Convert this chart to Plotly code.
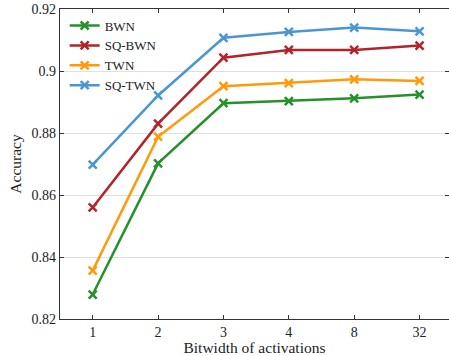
import plotly.graph_objects as go

categories = ["1", "2", "3", "4", "8", "32"]
bwn = [0.8279, 0.8702, 0.8896, 0.8903, 0.8912, 0.8924]
sq_bwn = [0.8560, 0.8830, 0.9043, 0.9068, 0.9068, 0.9082]
twn = [0.8356, 0.8788, 0.8951, 0.8961, 0.8973, 0.8968]
sq_twn = [0.8698, 0.8921, 0.9107, 0.9126, 0.9140, 0.9128]
y_ticks = [0.82, 0.84, 0.86, 0.88, 0.90, 0.92]
y_tick_labels = ["0.82", "0.84", "0.86", "0.88", "0.9", "0.92"]

series = [
    ("BWN", bwn, "#26912a"),
    ("SQ-BWN", sq_bwn, "#b0242a"),
    ("TWN", twn, "#ff9a0a"),
    ("SQ-TWN", sq_twn, "#4b96d2"),
]

font = dict(family="Liberation Serif", size=14, color="#222")
title_font = dict(family="Liberation Serif", size=15.5, color="#222")

fig = go.Figure()
for name, vals, color in series:
    fig.add_trace(go.Scatter(
        x=list(range(len(categories))), y=vals, name=name, mode="lines+markers",
        line=dict(color=color, width=2.5),
        marker=dict(symbol="x-thin", size=8, line=dict(color=color, width=2.5), color=color),
    ))

# white patch hiding the gridline behind the legend (above grid, below traces)
fig.add_shape(type="rect", xref="paper", yref="paper", x0=0.003, x1=0.25, y0=0.76, y1=0.99,
              layer="between", fillcolor="white", line=dict(width=0))

fig.update_layout(
    width=449, height=356,
    margin=dict(l=60, r=0, t=9, b=37),
    plot_bgcolor="white", paper_bgcolor="white",
    font=font,
    showlegend=True,
    legend=dict(x=0.012, y=0.995, xanchor="left", yanchor="top",
                bgcolor="rgba(255,255,255,0)", borderwidth=0,
                font=dict(family="Liberation Serif", size=13, color="#222"),
                tracegroupgap=0, itemwidth=30),
    xaxis=dict(
        range=[-0.5, 5.45], tickmode="array",
        tickvals=list(range(len(categories))), ticktext=categories,
        ticks="inside", ticklen=4, tickcolor="#333",
        showline=True, linecolor="#333", linewidth=1.2, mirror="ticks",
        showgrid=False, zeroline=False,
        title=dict(text="Bitwidth of activations", standoff=1, font=title_font),
    ),
    yaxis=dict(
        range=[0.82, 0.92], tickmode="array", tickvals=y_ticks, ticktext=y_tick_labels,
        ticks="inside", ticklen=4, tickcolor="#333",
        showline=True, linecolor="#333", linewidth=1.2, mirror="ticks",
        showgrid=True, gridcolor="#e0e0e0", gridwidth=1.2, zeroline=False,
        title=dict(text="Accuracy", standoff=6, font=title_font),
    ),
)

fig.write_html("out.html", config={"displayModeBar": False},
               post_script="document.body.style.margin='0';")
